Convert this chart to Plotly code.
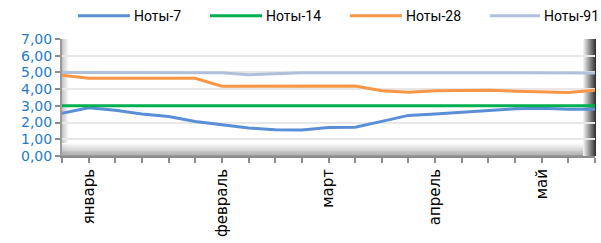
import plotly.graph_objects as go

# ---- data ----
labels = ["", "январь", "", "", "", "", "февраль", "", "", "", "март", "",
          "", "", "апрель", "", "", "", "май", "", ""]
notes7 = [2.56, 2.89, 2.74, 2.51, 2.36, 2.07, 1.87, 1.68, 1.57, 1.56, 1.70,
          1.72, 2.07, 2.43, 2.51, 2.62, 2.73, 2.82, 2.85, 2.80, 2.80]
notes14 = [3.00, 3.00, 3.00, 3.00, 3.00, 3.00, 3.00, 3.00, 3.00, 3.00, 3.00,
           3.00, 3.00, 3.00, 3.00, 3.00, 3.00, 3.00, 3.00, 3.00, 3.00]
notes28 = [4.83, 4.65, 4.65, 4.65, 4.65, 4.65, 4.17, 4.17, 4.17, 4.17, 4.17,
           4.19, 3.91, 3.82, 3.91, 3.91, 3.93, 3.88, 3.82, 3.80, 3.93]
notes91 = [5.00, 5.00, 5.00, 5.00, 5.00, 5.00, 4.98, 4.86, 4.94, 4.98, 4.98,
           4.97, 4.97, 4.97, 4.98, 4.98, 4.98, 4.98, 4.98, 4.97, 4.97]
series_names = ["Ноты-7", "Ноты-14", "Ноты-28", "Ноты-91"]
y_ticks = [0, 1, 2, 3, 4, 5, 6, 7]
y_ticktext = ["0,00", "1,00", "2,00", "3,00", "4,00", "5,00", "6,00", "7,00"]

colors = ["#5A8ED6", "#00B050", "#F79646", "#B0C0DA"]
x = list(range(len(labels)))

W, H = 601, 243
L, R, T, B = 62, 6, 39, 78
PW, PH = W - L - R, H - T - B


def px(xp):
    return (xp - L) / PW


def py(yp):
    return (H - B - yp) / PH


fig = go.Figure()
for name, vals, col in zip(series_names, [notes7, notes14, notes28, notes91], colors):
    fig.add_trace(go.Scatter(x=x, y=vals, mode="lines", name=name,
                             line=dict(color=col, width=3), showlegend=False))

shapes = []


def lerp(c1, c2, t):
    return "#%02x%02x%02x" % tuple(int(round(a + (b - a) * t)) for a, b in zip(c1, c2))


# left wall gradient
for i in range(7):
    t = i / 6
    shapes.append(dict(type="rect", xref="paper", yref="paper", layer="below",
                       x0=px(62 + i), x1=px(63 + i), y0=0, y1=1,
                       fillcolor=lerp((200, 200, 200), (252, 252, 252), t), line_width=0))
# floor gradient
for i in range(14):
    t = i / 13
    shapes.append(dict(type="rect", xref="paper", yref="paper", layer="below",
                       x0=0, x1=1, y0=py(165 - i), y1=py(164 - i),
                       fillcolor=lerp((155, 155, 155), (252, 252, 252), t), line_width=0))
# right edge dark gradient
for i in range(13):
    t = i / 12
    shapes.append(dict(type="rect", xref="paper", yref="paper", layer="below",
                       x0=px(583 + i), x1=px(584 + i), y0=0, y1=1,
                       fillcolor=lerp((240, 240, 240), (50, 50, 50), t), line_width=0))

# legend (manual)
leg_line_x = [(78, 130), (210, 262), (350, 402), (490, 540)]
annotations = []
for (a, b), name, col in zip(leg_line_x, series_names, colors):
    shapes.append(dict(type="line", xref="paper", yref="paper", layer="above",
                       x0=px(a), x1=px(b), y0=py(14), y1=py(14),
                       line=dict(color=col, width=3)))
    annotations.append(dict(xref="paper", yref="paper", x=px(b + 3), y=py(14),
                            text=name, showarrow=False, xanchor="left", yanchor="middle",
                            borderpad=0,
                            font=dict(family="Roboto", size=14, color="#000000")))

fig.update_layout(
    width=W, height=H,
    margin=dict(l=L, r=R, t=T, b=B, pad=0),
    paper_bgcolor="white", plot_bgcolor="white",
    shapes=shapes, annotations=annotations,
    showlegend=False,
    xaxis=dict(range=[0, 20], tickmode="array", tickvals=x, ticktext=labels,
               tickangle=-90, ticks="outside", ticklen=5, tickcolor="#8c8c8c",
               tickwidth=1.5, showgrid=False, zeroline=False, showline=True,
               linecolor="#8c8c8c", linewidth=2,
               tickfont=dict(family="DejaVu Sans", size=15, color="#000000")),
    yaxis=dict(range=[0, 7], tickmode="array", tickvals=y_ticks, ticktext=y_ticktext,
               ticks="outside", ticklen=5, tickcolor="#8c8c8c", tickwidth=1.5,
               showgrid=True, gridcolor="#e8e8e8", gridwidth=2, zeroline=False,
               showline=True, linecolor="#9a9a9a", linewidth=2,
               tickfont=dict(family="DejaVu Sans", size=14, color="#1F7BC6")),
)

fig.write_html("out.html", config={"displayModeBar": False},
               post_script="document.body.style.margin='0px';")
